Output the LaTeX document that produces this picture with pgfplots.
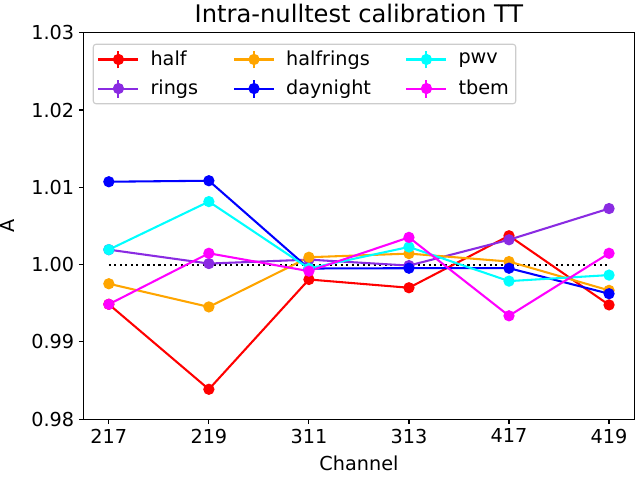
\documentclass[border=0pt]{standalone}
\usepackage{pgfplots}
\pgfplotsset{compat=1.18}
\usepackage{fontspec}
\setmainfont{DejaVu Sans}
\definecolor{bviolet}{HTML}{8A2BE2}
\definecolor{orng}{HTML}{FFA500}
\definecolor{cyn}{HTML}{00FFFF}
\definecolor{mgt}{HTML}{FF00FF}
\definecolor{rd}{HTML}{FF0000}
\definecolor{bl}{HTML}{0000FF}
\begin{document}
\pgfplotsset{
  errleg/.style={legend image code/.code={
    \draw[##1,mark=none] (0bp,0bp) -- (29bp,0bp);
    \draw[##1,mark=none] (14.5bp,-6.5bp) -- (14.5bp,6.5bp);
    \draw[##1] plot coordinates {(14.5bp,0bp)};
    \path (35bp,0bp);
  }},
}
\begin{tikzpicture}
\path[use as bounding box] (-57.6bp,-41.76bp) rectangle (403.2bp,303.84bp);
\begin{axis}[
  at={(0,0)}, anchor=south west,
  scale only axis, width=398.9bp, height=280.1bp,
  xmin=-0.25, xmax=5.25, ymin=0.98, ymax=1.03,
  xtick={0,1,2,3,4,5}, xticklabels={217,219,311,313,417,419},
  ytick={0.98,0.99,1.00,1.01,1.02,1.03},
  yticklabel style={/pgf/number format/.cd,fixed,fixed zerofill,precision=2},
  /pgf/number format/assume math mode=true,
  tick align=outside, xtick pos=bottom, ytick pos=left,
  major tick length=3.5bp,
  tick style={black, line width=0.8bp},
  axis line style={line width=0.8bp},
  ticklabel style={font=\fontsize{14}{16}\selectfont},
  label style={font=\fontsize{14}{16}\selectfont},
  title style={font=\fontsize{17.6}{20}\selectfont, yshift=-2bp},
  title={Intra-nulltest calibration TT},
  xlabel={Channel}, ylabel={A},
  xlabel shift=2bp, ylabel shift=5bp,
  legend columns=3,
  legend style={at={(0.0162,0.9717)}, anchor=north west,
    font=\fontsize{14}{16}\selectfont,
    draw=black!20, rounded corners=2bp, line width=0.8bp,
    column sep=0bp,
    row sep=5bp, inner sep=3bp},
  legend cell align=left,
  every axis plot/.append style={line width=1.5bp, mark=*, mark size=3.3bp, mark options={solid}},
]
\addlegendimage{errleg, rd, line width=1.5bp, mark=*, mark size=3.3bp}
\addlegendentry{\makebox[57.8bp][l]{half}}
\addlegendimage{errleg, orng, line width=1.5bp, mark=*, mark size=3.3bp}
\addlegendentry{\makebox[84.5bp][l]{halfrings}}
\addlegendimage{errleg, cyn, line width=1.5bp, mark=*, mark size=3.3bp}
\addlegendentry{pwv}
\addlegendimage{errleg, bviolet, line width=1.5bp, mark=*, mark size=3.3bp}
\addlegendentry{\makebox[57.8bp][l]{rings}}
\addlegendimage{errleg, bl, line width=1.5bp, mark=*, mark size=3.3bp}
\addlegendentry{\makebox[84.5bp][l]{daynight}}
\addlegendimage{errleg, mgt, line width=1.5bp, mark=*, mark size=3.3bp}
\addlegendentry{tbem}
\addplot[black, line width=1.5bp, dash pattern=on 1.5bp off 2.5bp, mark=none, forget plot] coordinates {(0,1.0) (5,1.0)};
\addplot[rd, forget plot] coordinates {(0,0.99486) (1,0.98386) (2,0.99807) (3,0.99700) (4,1.00373) (5,0.99478)};
\addplot[bviolet, forget plot] coordinates {(0,1.00193) (1,1.00013) (2,1.00064) (3,0.99987) (4,1.00321) (5,1.00725)};
\addplot[orng, forget plot] coordinates {(0,0.99752) (1,0.99452) (2,1.00095) (3,1.00142) (4,1.00039) (5,0.99666)};
\addplot[bl, forget plot] coordinates {(0,1.01072) (1,1.01085) (2,0.99949) (3,0.99953) (4,0.99953) (5,0.99623)};
\addplot[cyn, forget plot] coordinates {(0,1.00193) (1,1.00815) (2,0.99950) (3,1.00228) (4,0.99786) (5,0.99864)};
\addplot[mgt, forget plot] coordinates {(0,0.99486) (1,1.00146) (2,0.99915) (3,1.00352) (4,0.99337) (5,1.00146)};
\end{axis}
\end{tikzpicture}
\end{document}
